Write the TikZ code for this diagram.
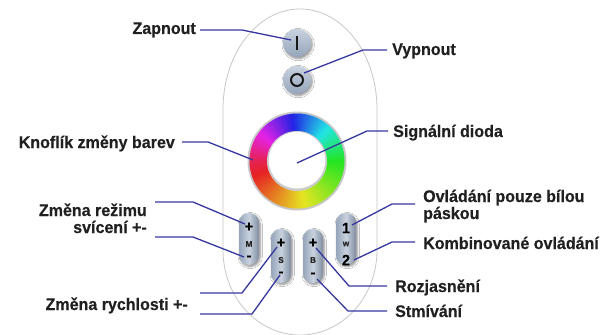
\documentclass[tikz,border=0pt]{standalone}
\usepackage{fontspec}
\setmainfont{Liberation Sans}[FakeStretch=0.955, BoldFeatures={FakeBold=0.4}]
\usetikzlibrary{shadows.blur}

\definecolor{leadblue}{RGB}{55,55,160}
\definecolor{labelink}{RGB}{32,32,32}
\definecolor{keylight}{RGB}{200,210,223}
\definecolor{keydark}{RGB}{150,165,186}
\definecolor{shellline}{RGB}{200,200,200}

\begin{document}
\begin{tikzpicture}[x=1pt,y=-1pt,
  lbl/.style={inner sep=0pt, text=labelink, font=\fontsize{16.8}{17}\selectfont\bfseries},
  lead/.style={draw=leadblue, line width=1.3pt, line join=round},
  keyshadow/.style={blur shadow={shadow xshift=1.2pt, shadow yshift=-1.6pt, shadow opacity=45, shadow blur steps=6}},
  roundkey/.style={circle, minimum size=28pt, inner sep=0pt, top color=keylight, bottom color=keydark, keyshadow},
  pillkey/.style={rectangle, rounded corners=9.9pt, minimum width=20pt, minimum height=#1, inner sep=0pt,
                  left color=keydark, right color=keydark!85!black, middle color=keylight, keyshadow},
  pillkey/.default=52pt,
  keysign/.style={inner sep=0pt, text=black, font=\fontsize{15}{15}\selectfont\bfseries},
  keytag/.style={inner sep=0pt, text=black!85, font=\fontsize{8.5}{8.5}\selectfont\bfseries},
  glyph/.style={draw=black!90, line width=2.8pt},
]
% canvas
\fill[white] (0,0) rectangle (601,334);
\useasboundingbox (0,0) rectangle (601,334);

% remote shell: elliptic top cap, straight sides, elliptic bottom
\path[fill=white, draw=shellline, line width=0.8pt]
  plot[domain=180:360, samples=90] ({300+77*cos(\x)},{109+100*sin(\x)})
  -- plot[domain=0:180, samples=90] ({300+77*cos(\x)},{250+85*sin(\x)}) -- cycle;

% on / off keys
\node[roundkey] (keyOn) at (297,43) {};
\node[roundkey] (keyOff) at (297,80) {};
\draw[glyph] (keyOn.center) ++(0,-7) -- ++(0,14);
\draw[draw=black!90, line width=2pt] (keyOff.center) circle[radius=6pt];

% colour wheel
\coordinate (wheel) at (297,161);
\fill[black!22] (wheel) circle[radius=49.5pt];
\foreach \a in {0,3,...,357}{
  \pgfmathsetmacro{\mid}{\a+1.5}
  \pgfmathsetmacro{\hh}{\mid<=180 ? 120+\mid*1.25 : 345+(\mid-180)*0.75}
  \pgfmathsetmacro{\hm}{mod(\hh,360)}
  \definecolor{wedge}{Hsb}{\hm,0.85,0.9}
  \pgfmathsetmacro{\p}{\a-0.4}
  \pgfmathsetmacro{\q}{\a+3.4}
  \fill[wedge] ({297+47.5*cos(\p)},{161-47.5*sin(\p)}) -- ({297+47.5*cos(\q)},{161-47.5*sin(\q)})
     -- ({297+29.5*cos(\q)},{161-29.5*sin(\q)}) -- ({297+29.5*cos(\p)},{161-29.5*sin(\p)}) -- cycle;
}
% signal diode cap
\fill[black!20] (wheel) circle[radius=30pt];
\fill[white] ([yshift=0.8pt]wheel) circle[radius=28.3pt];

% pill keys with their markings
\node[pillkey=52pt] (keyM) at (249,239) {};
\node[pillkey=54pt] (keyS) at (281,256) {};
\node[pillkey=54pt] (keyB) at (313,256) {};
\node[pillkey=52pt] (keyW) at (346,239) {};

\node[keysign] (mPlus) at (249,227) {+};
\node[keytag]  (mTag)  at (249,244) {M};
\node[keysign] (mMinus) at (249,258) {-};
\node[keysign] (sPlus) at (281,243) {+};
\node[keytag]  (sTag)  at (281,260) {S};
\node[keysign] (sMinus) at (281,274) {-};
\node[keysign] (bPlus) at (313,243) {+};
\node[keytag]  (bTag)  at (313,260) {B};
\node[keysign] (bMinus) at (313,275) {-};
\node[keysign] (wOne) at (346,228) {1};
\node[keytag]  (wTag) at (346,244) {w};
\node[keysign] (wTwo) at (346,260) {2};

% labels
\node[lbl, anchor=base east] (lZap) at (196,34) {Zapnout};
\node[lbl, anchor=base west] (lVyp) at (392,55) {Vypnout};
\node[lbl, anchor=base east] (lKno) at (175,148) {Knoflík změny barev};
\node[lbl, anchor=base west] (lSig) at (393,137) {Signální dioda};
\node[lbl, anchor=base west] (lBil) at (423,202) {Ovládání pouze bílou};
\node[lbl, anchor=base west] (lBil2) at (423,219) {páskou};
\node[lbl, anchor=base west] (lKom) at (423,249) {Kombinované ovládání};
\node[lbl, anchor=base west] (lRoz) at (395,292) {Rozjasnění};
\node[lbl, anchor=base west] (lStm) at (395,317) {Stmívání};
\node[lbl, anchor=base east] (lRez) at (147,216) {Změna režimu};
\node[lbl, anchor=base east] (lRez2) at (147,233) {svícení +-};
\node[lbl, anchor=base east] (lRyc) at (188,310) {Změna rychlosti +-};

% leader ends beside the labels
\coordinate (fZap) at (200,30);
\coordinate (fVyp) at (387,50);
\coordinate (fKno) at (182,142);
\coordinate (fSig) at (388,131);
\coordinate (fBil) at (415,204);
\coordinate (fKom) at (415,242);
\coordinate (fRoz) at (387,286);
\coordinate (fStm) at (387,311);
\coordinate (fRez) at (155,202);
\coordinate (fRez2) at (155,237);
\coordinate (fRyc) at (200,293);
\coordinate (fRyc2) at (200,314);

% leader ends on the remote
\coordinate (tOn) at (291,40);
\coordinate (tOff) at (304,73);
\coordinate (tWheel) at (253,160);
\coordinate (tDiode) at (297,163);

% leaders
\draw[lead] (fZap) -- ++(42,0) -- (tOn);
\draw[lead] (fVyp) -- ++(-24,0) -- (tOff);
\draw[lead] (fKno) -- ++(26,0) -- (tWheel);
\draw[lead] (fSig) -- ++(-21,0) -- (tDiode);
\draw[lead] (fBil) -- ++(-23,0) -- ([shift={(6,-3)}]wOne.center);
\draw[lead] (fKom) -- ++(-23,0) -- ([shift={(8,0)}]wTwo.center);
\draw[lead] (fRoz) -- ++(-38,0) -- ([shift={(3,5)}]bPlus.center);
\draw[lead] (fStm) -- ++(-39,0) -- ([shift={(4,4)}]bMinus.center);
\draw[lead] (fRez) -- ++(38,0) -- ([shift={(-4,-3)}]mPlus.center);
\draw[lead] (fRez2) -- ++(38,0) -- ([shift={(-5,-1)}]mMinus.center);
\draw[lead] (fRyc) -- ++(42,0) -- ([shift={(-4,4)}]sPlus.center);
\draw[lead] (fRyc2) -- ++(52,0) -- ([shift={(-1,1)}]sMinus.center);
\end{tikzpicture}
\end{document}
